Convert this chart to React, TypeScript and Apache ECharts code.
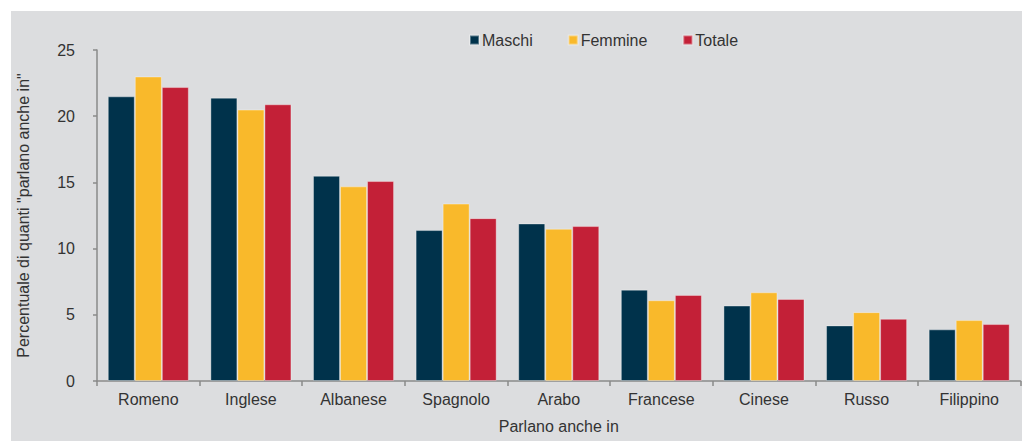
import React, { useEffect, useRef } from "react";
import * as echarts from "echarts";

const categories = ["Romeno", "Inglese", "Albanese", "Spagnolo", "Arabo", "Francese", "Cinese", "Russo", "Filippino"];
const maschi = [21.5, 21.4, 15.5, 11.4, 11.9, 6.9, 5.7, 4.2, 3.9];
const femmine = [23.0, 20.5, 14.7, 13.4, 11.5, 6.1, 6.7, 5.2, 4.6];
const totale = [22.2, 20.9, 15.1, 12.3, 11.7, 6.5, 6.2, 4.7, 4.3];
const seriesNames = ["Maschi", "Femmine", "Totale"];
const colors = ["#00324b", "#f9b92b", "#c32037"];
const yAxisTitle = 'Percentuale di quanti "parlano anche in"';
const xAxisTitle = "Parlano anche in";

const FONT = "'Liberation Sans', Arial, sans-serif";

export default function App() {
  const ref = useRef<HTMLDivElement>(null);
  useEffect(() => {
    if (!ref.current) return;
    const chart = echarts.init(ref.current, undefined, { renderer: "svg" });
    const data = [maschi, femmine, totale];
    chart.setOption({
      animation: false,
      textStyle: { fontFamily: FONT },
      graphic: [
        {
          type: "rect",
          left: 11,
          top: 11,
          shape: { width: 1011, height: 430 },
          style: { fill: "#dcdddf" },
          z: -10,
        },
      ],
      legend: {
        left: 464,
        top: 27,
        itemWidth: 9,
        itemHeight: 9,
        itemGap: 35,
        icon: "rect",
        textStyle: { fontSize: 16, color: "#333", fontFamily: FONT, padding: [0, 0, 0, -2] },
        data: seriesNames,
      },
      grid: { left: 97, right: 1.5, top: 50, bottom: 60, containLabel: false },
      xAxis: {
        type: "category",
        data: categories,
        name: xAxisTitle,
        nameLocation: "middle",
        nameGap: 37,
        nameTextStyle: { fontSize: 16, color: "#333", fontFamily: FONT },
        axisLine: { lineStyle: { color: "#8a8a8a", width: 1.5 } },
        axisTick: { show: true, length: 5, lineStyle: { color: "#8a8a8a", width: 1.5 } },
        axisLabel: { fontSize: 16, color: "#333", margin: 10, fontFamily: FONT },
      },
      yAxis: {
        type: "value",
        min: 0,
        max: 25,
        interval: 5,
        name: yAxisTitle,
        nameLocation: "middle",
        nameGap: 66,
        nameTextStyle: { fontSize: 16, color: "#333", fontFamily: FONT },
        splitLine: { show: false },
        axisLine: { show: true, lineStyle: { color: "#8a8a8a", width: 1.5 } },
        axisTick: { show: true, length: 4, lineStyle: { color: "#8a8a8a", width: 1.5 } },
        axisLabel: { fontSize: 16, color: "#333", margin: 22, fontFamily: FONT },
      },
      series: seriesNames.map((n, i) => ({
        name: n,
        type: "bar",
        data: data[i],
        barGap: "0%",
        barCategoryGap: "21%",
        itemStyle: { color: colors[i], borderColor: "rgba(255,255,255,0.35)", borderWidth: 1 },
      })),
    });
    return () => chart.dispose();
  }, []);
  return (
    <div
      ref={ref}
      style={{ position: "absolute", left: 0, top: 0, width: 1022, height: 441, background: "#fff" }}
    />
  );
}
